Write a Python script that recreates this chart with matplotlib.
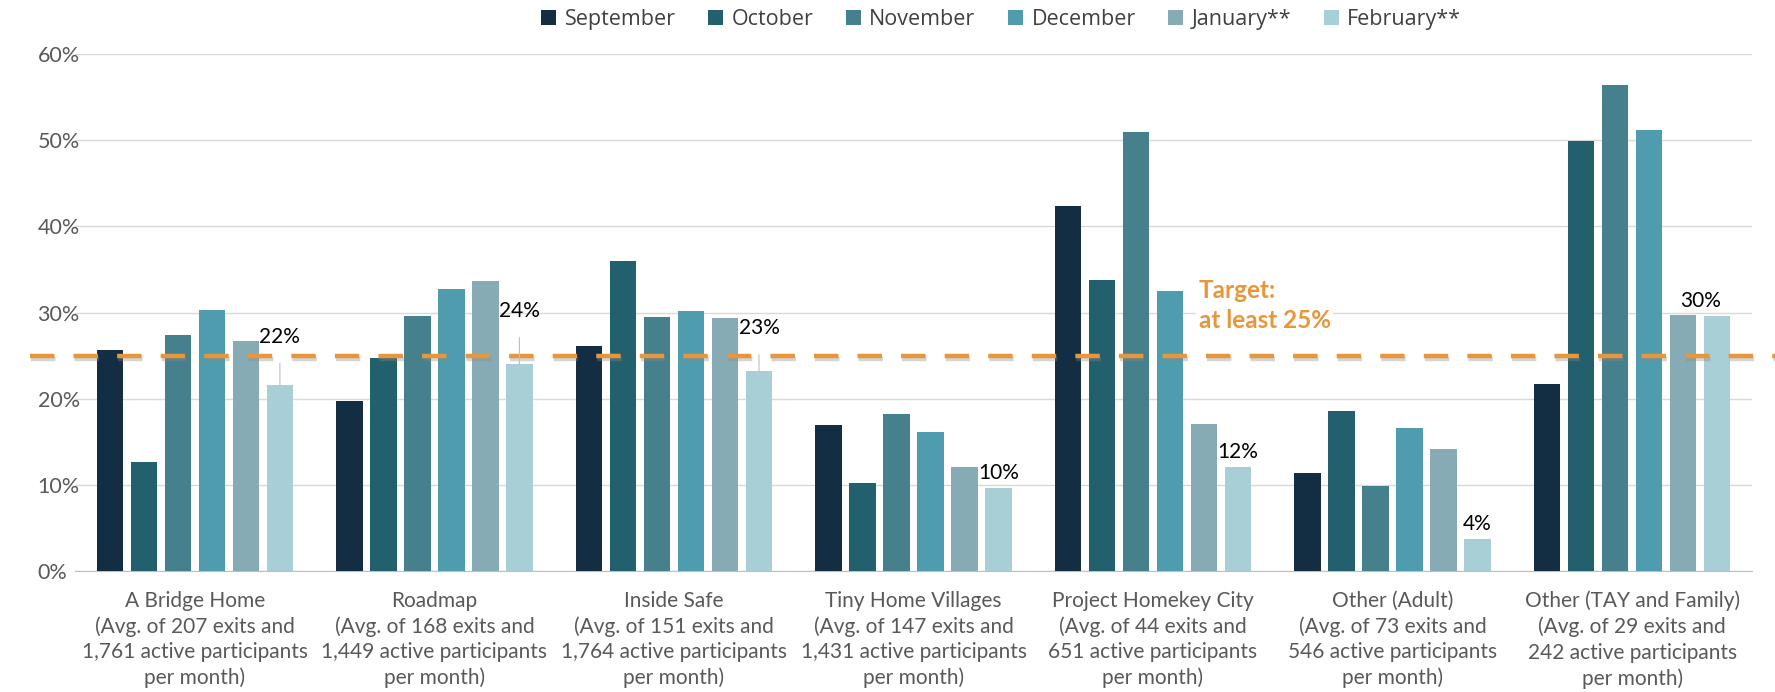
import numpy as np
import matplotlib.pyplot as plt
import matplotlib.patheffects as pe

# Category labels and monthly values (share of exits to permanent housing)
categories = ['A Bridge Home\n(Avg. of 207 exits and\n1,761 active participants\nper month)',
              'Roadmap\n(Avg. of 168 exits and\n1,449 active participants\nper month)',
              'Inside Safe\n(Avg. of 151 exits and\n1,764 active participants\nper month)',
              'Tiny Home Villages\n(Avg. of 147 exits and\n1,431 active participants\nper month)',
              'Project Homekey City\n(Avg. of 44 exits and\n651 active participants\nper month)',
              'Other (Adult)\n(Avg. of 73 exits and\n546 active participants\nper month)',
              'Other (TAY and Family)\n(Avg. of 29 exits and\n242 active participants\nper month)']
months = ['September', 'October', 'November', 'December', 'January**', 'February**']

sep = [0.257, 0.198, 0.261, 0.170, 0.424, 0.114, 0.217]
octo = [0.127, 0.247, 0.360, 0.103, 0.338, 0.186, 0.499]
nov = [0.274, 0.296, 0.295, 0.183, 0.510, 0.099, 0.564]
dec = [0.303, 0.327, 0.302, 0.162, 0.325, 0.166, 0.512]
jan = [0.267, 0.337, 0.294, 0.121, 0.171, 0.142, 0.297]
feb = [0.216, 0.240, 0.232, 0.097, 0.121, 0.037, 0.296]
target = 0.25

colors = ['#132D42', '#22606E', '#45808C', '#4E9CAE', '#86ABB4', '#A8CFD6']

plt.rcParams['font.family'] = ['Lato', 'DejaVu Sans']

fig = plt.figure(figsize=(17.75, 6.92), dpi=100)
ax = fig.add_axes([0.0423, 0.1744, 0.9447, 0.7476])

series = [sep, octo, nov, dec, jan, feb]
x = np.arange(len(categories))
pitch = 0.142
width = 0.110
for i, vals in enumerate(series):
    ax.bar(x + (i - 2.5) * pitch, vals, width, color=colors[i], label=months[i], zorder=3)

# data labels on February bars
lab_pos = [0.272, 0.302, 0.282, None, None, None, None]
for j, v in enumerate(feb):
    bx = x[j] + 2.5 * pitch
    txt = '%d%%' % round(v * 100)
    if lab_pos[j] is not None:
        ax.annotate(txt, xy=(bx, v), xytext=(bx, lab_pos[j]), ha='center', va='center',
                    fontsize=15, color='black', zorder=6,
                    arrowprops=dict(arrowstyle='-', color='#BFBFBF', lw=0.8, shrinkA=10, shrinkB=0))
    else:
        tx = bx if j != 6 else bx - pitch / 2
        ax.text(tx, v + 0.006, txt, ha='center', va='bottom', fontsize=15, color='black', zorder=6)

# target line
ax.axhline(target, xmin=-0.027, xmax=1.02, color='#E8963A', lw=3.2, dashes=(5.5, 4.3),
           clip_on=False, zorder=5,
           path_effects=[pe.SimpleLineShadow(offset=(1, -2), shadow_color='#888888', alpha=0.35),
                         pe.Normal()])
ax.text(4.19, 0.308, 'Target:\nat least 25%', color='#E8963A', fontsize=17.5, fontweight='bold',
        ha='left', va='center', linespacing=1.35, zorder=4,
        bbox=dict(facecolor='white', edgecolor='none', pad=2))

ax.set_xlim(-0.5, 6.5)
ax.set_ylim(0, 0.6)
ax.set_yticks(np.arange(0, 0.61, 0.1))
ax.set_yticklabels(['%d%%' % t for t in range(0, 61, 10)], fontsize=15.5, color='#595959')
ax.set_xticks(x)
ax.set_xticklabels(categories, fontsize=15, color='#595959', linespacing=1.33)
ax.tick_params(axis='both', length=0)
ax.tick_params(axis='x', pad=14)
ax.tick_params(axis='y', pad=27)
for lbl in ax.get_yticklabels():
    lbl.set_horizontalalignment('left')
ax.grid(axis='y', color='#D9D9D9', lw=1, zorder=0)
for s in ['top', 'right', 'left']:
    ax.spines[s].set_visible(False)
ax.spines['bottom'].set_color('#BFBFBF')

leg = fig.legend(loc='upper center', bbox_to_anchor=(0.564, 1.015), ncol=6, frameon=False,
                 handlelength=0.7, handleheight=0.7, handletextpad=0.4,
                 columnspacing=1.5, prop={'family': 'Open Sans', 'size': 15.5})
for t in leg.get_texts():
    t.set_color('#404040')

fig.savefig('out.png', dpi=100)
